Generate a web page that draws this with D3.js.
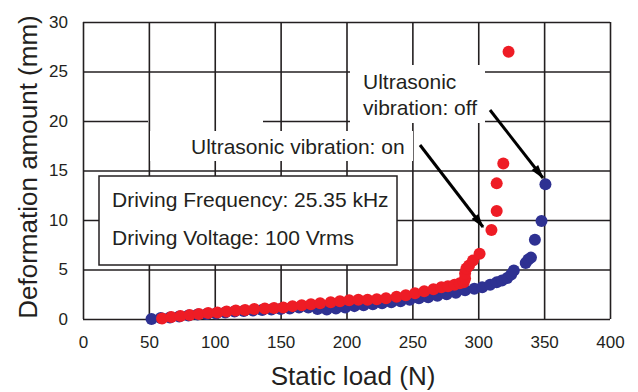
<!DOCTYPE html>
<html>
<head>
<meta charset="utf-8">
<script src="https://cdn.jsdelivr.net/npm/d3@7"></script>
<style>
body { margin: 0; background: #fff; }
svg text { font-family: "Liberation Sans", Arial, sans-serif; fill: #231f20; }
</style>
</head>
<body>
<div id="chart"></div>
<script>
// ultrasonic vibration off (blue)
var offLoad = [52, 59, 66, 73, 80, 87, 94, 101, 108, 115, 122, 129, 136, 143, 150, 157, 164, 171, 178, 185, 192, 199, 206, 213, 220, 227, 234, 241, 248, 255, 262, 269, 276, 283, 290, 297, 303, 309, 314, 318, 322, 325, 327, 336, 338, 340, 343, 348, 351];
var offDeform = [0.0, 0.1, 0.15, 0.25, 0.35, 0.45, 0.5, 0.55, 0.65, 0.75, 0.8, 0.85, 0.9, 0.95, 1.0, 1.05, 1.15, 1.15, 1.0, 0.95, 1.05, 1.15, 1.3, 1.4, 1.5, 1.6, 1.7, 1.8, 1.95, 2.1, 2.2, 2.35, 2.5, 2.65, 2.9, 3.05, 3.2, 3.45, 3.7, 3.9, 4.15, 4.5, 4.9, 5.65, 6.0, 6.2, 8.0, 9.9, 13.6];

// ultrasonic vibration on (red)
var onLoad = [60, 67, 74, 81, 88, 95, 102, 109, 116, 123, 130, 138, 145, 152, 159, 166, 173, 180, 188, 195, 202, 209, 216, 223, 230, 238, 245, 252, 259, 266, 272, 277, 282, 286, 289, 290, 290, 291, 293, 296, 301, 310, 314, 314, 319, 323];
var onDeform = [0.05, 0.2, 0.3, 0.4, 0.5, 0.6, 0.65, 0.75, 0.85, 0.9, 1.0, 1.05, 1.1, 1.15, 1.3, 1.4, 1.5, 1.6, 1.7, 1.8, 1.9, 1.95, 1.95, 2.0, 2.1, 2.25, 2.4, 2.6, 2.8, 3.0, 3.2, 3.3, 3.45, 3.6, 3.7, 4.1, 4.6, 5.1, 5.4, 5.9, 6.6, 9.0, 10.9, 13.7, 15.7, 27.0];

var xTicks = [0, 50, 100, 150, 200, 250, 300, 350, 400];
var yTicks = [0, 5, 10, 15, 20, 25, 30];

var infoLines = ["Driving Frequency: 25.35 kHz", "Driving Voltage: 100 Vrms"];
var onLabel = ["Ultrasonic vibration: on"];
var offLabel = ["Ultrasonic", "vibration: off"];

var width = 638, height = 392;
var margin = {top: 22, right: 28, bottom: 73, left: 83};
var w = width - margin.left - margin.right;
var h = height - margin.top - margin.bottom;
var ink = "#231f20";

var svg = d3.select("#chart").append("svg")
    .attr("width", width)
    .attr("height", height);

var g = svg.append("g")
    .attr("transform", "translate(" + margin.left + "," + margin.top + ")");

var x = d3.scaleLinear().domain([0, 400]).range([0, w]);
var y = d3.scaleLinear().domain([0, 30]).range([h, 0]);

// grid + ticks
var xAxis = g.append("g")
    .attr("transform", "translate(0," + h + ")")
    .call(d3.axisBottom(x).tickValues(xTicks).tickSizeInner(-h).tickSizeOuter(0).tickPadding(17));
var yAxis = g.append("g")
    .call(d3.axisLeft(y).tickValues(yTicks).tickSizeInner(-w).tickSizeOuter(0).tickPadding(15));

[xAxis, yAxis].forEach(function(a) {
    a.select(".domain").remove();
    a.selectAll("line").attr("stroke", ink).attr("stroke-width", 1.6);
    a.selectAll("text").style("font-size", "17px").attr("fill", ink);
});

// the 20 mm line is broken behind the label area in the original
yAxis.selectAll(".tick").filter(function(d) { return d === 20; })
    .select("line")
    .attr("stroke-dasharray", "65,115,1000");

// white backing behind the annotation labels
g.append("rect")
    .attr("x", 350 - margin.left).attr("y", 65 - margin.top)
    .attr("width", 135).attr("height", 58)
    .attr("fill", "#fff");
g.append("rect")
    .attr("x", 150 - margin.left).attr("y", 131 - margin.top)
    .attr("width", 263).attr("height", 30)
    .attr("fill", "#fff");

// info box
g.append("rect")
    .attr("x", 99 - margin.left).attr("y", 176 - margin.top)
    .attr("width", 298).attr("height", 89)
    .attr("fill", "#fff")
    .attr("stroke", ink)
    .attr("stroke-width", 1.5);

g.selectAll(".info")
    .data(infoLines)
    .enter().append("text")
    .attr("class", "info")
    .attr("x", 112 - margin.left)
    .attr("y", function(d, i) { return 207 - margin.top + i * 38; })
    .style("font-size", "21px")
    .text(function(d) { return d; });

// points
var off = offLoad.map(function(v, i) { return [v, offDeform[i]]; });
var on = onLoad.map(function(v, i) { return [v, onDeform[i]]; });

g.selectAll(".off")
    .data(off)
    .enter().append("circle")
    .attr("class", "off")
    .attr("cx", function(d) { return x(d[0]); })
    .attr("cy", function(d) { return y(d[1]); })
    .attr("r", 6)
    .attr("fill", "#2e3192");

g.selectAll(".on")
    .data(on)
    .enter().append("circle")
    .attr("class", "on")
    .attr("cx", function(d) { return x(d[0]); })
    .attr("cy", function(d) { return y(d[1]); })
    .attr("r", 6)
    .attr("fill", "#ee1c25");

// annotation labels
g.selectAll(".onlab")
    .data(onLabel)
    .enter().append("text")
    .attr("x", 191 - margin.left)
    .attr("y", 154 - margin.top)
    .style("font-size", "21px")
    .text(function(d) { return d; });

g.selectAll(".offlab")
    .data(offLabel)
    .enter().append("text")
    .attr("x", 363 - margin.left)
    .attr("y", function(d, i) { return 89 - margin.top + i * 26; })
    .style("font-size", "21px")
    .text(function(d) { return d; });

// arrows
svg.append("defs").append("marker")
    .attr("id", "head")
    .attr("viewBox", "0 0 12 10")
    .attr("refX", 11).attr("refY", 5)
    .attr("markerWidth", 5).attr("markerHeight", 4)
    .attr("markerUnits", "strokeWidth")
    .attr("orient", "auto")
    .append("path")
    .attr("d", "M0,1.5 L12,5 L0,8.5 Z")
    .attr("fill", "#000");

var arrows = [
    [[420, 145], [483, 227]],
    [[490, 110], [543, 178]]
];
svg.selectAll(".arrow")
    .data(arrows)
    .enter().append("line")
    .attr("x1", function(d) { return d[0][0]; })
    .attr("y1", function(d) { return d[0][1]; })
    .attr("x2", function(d) { return d[1][0]; })
    .attr("y2", function(d) { return d[1][1]; })
    .attr("stroke", "#000")
    .attr("stroke-width", 3)
    .attr("marker-end", "url(#head)");

// axis titles
svg.append("text")
    .attr("x", 353)
    .attr("y", 385)
    .attr("text-anchor", "middle")
    .style("font-size", "26px")
    .text("Static load (N)");

svg.append("text")
    .attr("transform", "translate(37,167) rotate(-90)")
    .attr("text-anchor", "middle")
    .style("font-size", "26px")
    .text("Deformation amount (mm)");
</script>
</body>
</html>
